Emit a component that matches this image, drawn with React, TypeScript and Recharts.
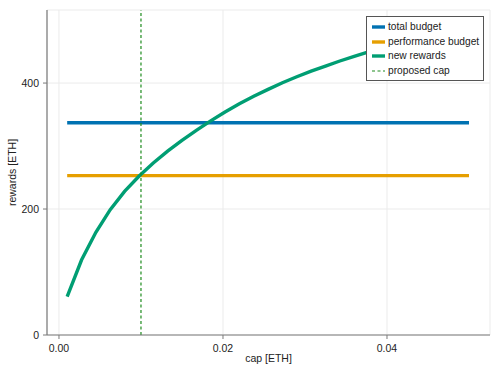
import React from 'react';
import { ComposedChart, Line, XAxis, YAxis, CartesianGrid, ReferenceLine } from 'recharts';

const capValues = [
  0.001, 0.00275, 0.0045, 0.00625, 0.008, 0.00975, 0.0115, 0.01325, 0.015, 0.01675,
  0.0185, 0.02025, 0.022, 0.02375, 0.0255, 0.02725, 0.029, 0.03075, 0.0325, 0.03425,
  0.036, 0.03775, 0.0395, 0.04125, 0.043, 0.04475, 0.0465, 0.04825, 0.05,
];
const totalBudget = [
  337, 337, 337, 337, 337, 337, 337, 337, 337, 337,
  337, 337, 337, 337, 337, 337, 337, 337, 337, 337,
  337, 337, 337, 337, 337, 337, 337, 337, 337,
];
const performanceBudget = [
  253, 253, 253, 253, 253, 253, 253, 253, 253, 253,
  253, 253, 253, 253, 253, 253, 253, 253, 253, 253,
  253, 253, 253, 253, 253, 253, 253, 253, 253,
];
const newRewards = [
  61, 119, 163, 199, 228, 252, 273, 292, 309, 325,
  340, 354, 367, 379, 390, 400.5, 410, 419, 427, 435,
  442.5, 449.5, 456, 462.5, 468.5, 474.5, 480.5, 486, 491.5,
];
const proposedCap = 0.01;
const xTicks = [0, 0.02, 0.04];
const yTicks = [0, 200, 400];

const seriesNames = ['total budget', 'performance budget', 'new rewards', 'proposed cap'];
const seriesColors = ['#0072B2', '#E69F00', '#009E73', '#1e8c1e'];

const data = capValues.map((cap, i) => ({
  cap,
  total: totalBudget[i],
  perf: performanceBudget[i],
  rewards: newRewards[i],
}));

const FONT = '"Liberation Sans", Arial, Helvetica, sans-serif';
const FRAME = '#7a7a7a';

export default function App() {
  return (
    <div style={{ position: 'absolute', left: 0, top: 0, width: 500, height: 375, background: '#fff', fontFamily: FONT }}>
      <ComposedChart width={500} height={375} data={data} margin={{ top: 10, right: 10, bottom: 0, left: 0 }}>
        <CartesianGrid stroke="#ebebeb" strokeWidth={1} />
        <XAxis
          dataKey="cap"
          type="number"
          domain={[-0.00146, 0.05256]}
          ticks={xTicks}
          allowDataOverflow
          tickFormatter={(v: number) => v.toFixed(2)}
          height={40}
          tickSize={4}
          tickMargin={6}
          axisLine={{ stroke: FRAME, strokeWidth: 1.2 }}
          tickLine={{ stroke: FRAME }}
          tick={{ fill: '#222', fontSize: 10.5, fontFamily: FONT }}
          label={{ value: 'cap [ETH]', position: 'insideBottom', offset: 13, fill: '#222', fontSize: 10.5, fontFamily: FONT }}
        />
        <XAxis
          xAxisId="top"
          orientation="top"
          dataKey="cap"
          type="number"
          domain={[-0.00146, 0.05256]}
          allowDataOverflow
          height={0}
          tick={false}
          tickLine={false}
          axisLine={{ stroke: FRAME, strokeWidth: 1.2 }}
        />
        <YAxis
          type="number"
          domain={[0, 516]}
          ticks={yTicks}
          allowDataOverflow
          width={47}
          tickSize={4}
          tickMargin={4}
          axisLine={{ stroke: FRAME, strokeWidth: 1.2 }}
          tickLine={{ stroke: FRAME }}
          tick={{ fill: '#222', fontSize: 10.5, fontFamily: FONT }}
          label={{ value: 'rewards [ETH]', angle: -90, position: 'insideLeft', offset: 12, fill: '#222', fontSize: 10.5, fontFamily: FONT, style: { textAnchor: 'middle' } }}
        />
        <YAxis
          yAxisId="right"
          orientation="right"
          type="number"
          domain={[0, 516]}
          allowDataOverflow
          width={0}
          tick={false}
          tickLine={false}
          axisLine={{ stroke: FRAME, strokeWidth: 1.2 }}
        />
        <Line dataKey="total" stroke={seriesColors[0]} strokeWidth={3.4} dot={false} isAnimationActive={false} />
        <Line dataKey="perf" stroke={seriesColors[1]} strokeWidth={3.4} dot={false} isAnimationActive={false} />
        <Line dataKey="rewards" stroke={seriesColors[2]} strokeWidth={3.4} dot={false} isAnimationActive={false} type="linear" />
        <ReferenceLine x={proposedCap} stroke={seriesColors[3]} strokeWidth={1.2} strokeDasharray="3 2.5" />
      </ComposedChart>
      <div
        style={{
          position: 'absolute',
          left: 366,
          top: 16,
          width: 118,
          height: 65,
          boxSizing: 'border-box',
          border: '1px solid #555',
          background: '#fff',
          paddingTop: 3,
        }}
      >
        {seriesNames.map((name, i) => (
          <div
            key={name}
            style={{ display: 'flex', alignItems: 'center', height: 14.5, fontSize: 10.2, lineHeight: '14px', color: '#222', fontFamily: FONT, whiteSpace: 'nowrap' }}
          >
            <svg width={21} height={10} style={{ flex: 'none' }}>
              {i < 3 ? (
                <line x1={5} y1={5} x2={18} y2={5} stroke={seriesColors[i]} strokeWidth={3.4} />
              ) : (
                <line x1={5} y1={5} x2={18} y2={5} stroke={seriesColors[i]} strokeWidth={1.2} strokeDasharray="3 2.5" />
              )}
            </svg>
            <span>{name}</span>
          </div>
        ))}
      </div>
    </div>
  );
}
